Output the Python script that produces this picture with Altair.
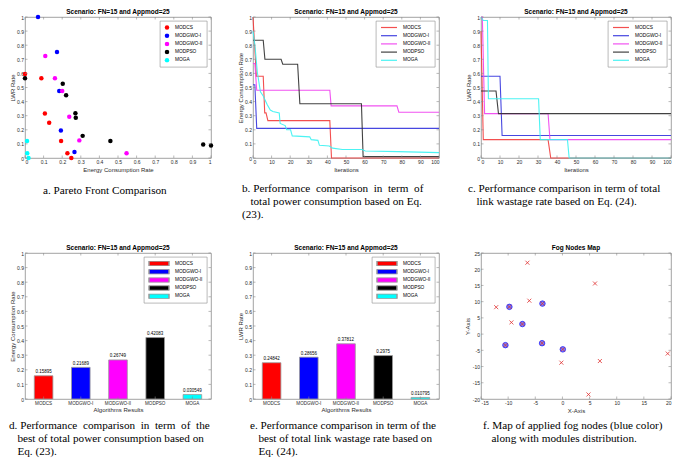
import altair as alt
import pandas as pd

SANS = "Liberation Sans"
SERIF = "Liberation Serif"
AXC = "#8a8a8a"
TXT = "#2b2b2b"

ALGS = ["MODCS", "MODGWO-I", "MODGWO-II", "MODPSO", "MOGA"]
COLORS = ["#ff0000", "#0000ff", "#ff00ff", "#000000", "#00ffff"]
LINE_COLORS = ["#f23c3c", "#3333dd", "#f040f0", "#2e2e2e", "#38f2f2"]
SCENARIO = "Scenario: FN=15 and Appmod=25"

TICKS_01 = [0.0, 0.1, 0.2, 0.3, 0.4, 0.5, 0.6, 0.7, 0.8, 0.9, 1.0]
TICKS_ITER = [0, 10, 20, 30, 40, 50, 60, 70, 80, 90, 100]
TICKS_FX = [-15, -10, -5, 0, 5, 10, 15, 20]
TICKS_FY = [-20, -15, -10, -5, 0, 5, 10, 15, 20, 25]

# (a) Pareto front
a_modcs_x = [0.0, 0.088, 0.107, 0.130, 0.194, 0.228, 0.249]
a_modcs_y = [0.595, 0.566, 0.316, 0.250, 0.120, 0.034, 0.0]
a_gwo1_x = [0.070, 0.172, 0.184, 0.193, 0.266]
a_gwo1_y = [1.0, 0.752, 0.475, 0.195, 0.043]
a_gwo2_x = [0.109, 0.161, 0.200, 0.238, 0.292, 0.546]
a_gwo2_y = [0.723, 0.566, 0.475, 0.293, 0.125, 0.034]
a_pso_x = [0.0, 0.203, 0.221, 0.271, 0.273, 0.310, 0.459, 0.958, 1.0]
a_pso_y = [0.566, 0.527, 0.445, 0.318, 0.286, 0.157, 0.120, 0.095, 0.089]
a_moga_x = [0.011, 0.012, 0.019]
a_moga_y = [0.120, 0.034, 0.0]

# (b) energy consumption vs iterations
b_modcs_it = [0, 1.8, 5.5, 6.3, 7.0, 8.0, 41.3, 42.2, 100]
b_modcs_v = [1.0, 0.58, 0.58, 0.32, 0.32, 0.265, 0.265, 0.0, 0.0]
b_gwo1_it = [0, 1.0, 2.0, 100]
b_gwo1_v = [0.52, 0.52, 0.21, 0.21]
b_gwo2_it = [0, 1.0, 2.0, 41.3, 42.0, 77.4, 78.4, 100]
b_gwo2_v = [0.67, 0.67, 0.48, 0.48, 0.37, 0.37, 0.325, 0.325]
b_pso_it = [0, 5.5, 6.4, 15.1, 16.0, 24.0, 25.2, 58.3, 59.2, 100]
b_pso_v = [0.835, 0.835, 0.70, 0.70, 0.665, 0.665, 0.385, 0.385, 0.01, 0.01]
b_moga_it = [0, 1.1, 2.3, 4.0, 5.5, 7.6, 9.3, 10.7, 14.1, 14.6, 17.3, 18.1, 20.2,
             21.1, 30.5, 31.3, 34.9, 35.7, 41.0, 42.8, 48.0, 58.6, 60.4, 78.0, 100]
b_moga_v = [0.90, 0.79, 0.61, 0.47, 0.44, 0.38, 0.34, 0.33, 0.32, 0.245, 0.23, 0.20, 0.20,
            0.157, 0.15, 0.13, 0.125, 0.09, 0.085, 0.07, 0.06, 0.06, 0.05, 0.045, 0.038]

# (c) LWR vs iterations
c_modcs_it = [0, 1.2, 35.3, 36.7, 100]
c_modcs_v = [0.9, 0.13, 0.13, 0.0, 0.0]
c_gwo1_it = [0, 10.0, 11.1, 100]
c_gwo1_v = [0.58, 0.58, 0.16, 0.16]
c_gwo2_it = [0, 0.7, 1.9, 35.3, 36.3, 100]
c_gwo2_v = [1.0, 1.0, 0.315, 0.315, 0.13, 0.13]
c_pso_it = [0, 7.9, 9.2, 100]
c_pso_v = [0.475, 0.475, 0.315, 0.315]
c_moga_it = [0, 1.2, 3.4, 3.9, 30.3, 31.2, 45.5, 46.4, 100]
c_moga_v = [1.0, 0.975, 0.975, 0.42, 0.42, 0.13, 0.13, 0.0, 0.0]

# (d) best energy, (e) best LWR
d_values = [0.15895, 0.21689, 0.26749, 0.42083, 0.030549]
e_values = [0.24842, 0.28656, 0.37812, 0.2975, 0.010795]

# (f) fog nodes map
fog_x = [-9.77, -7.37, -10.5, -3.68, -3.75, 0.07]
fog_y = [8.4, 3.1, -3.4, 9.4, -2.8, -4.7]
mod_x = [-9.77, -7.37, -10.5, -3.68, -3.75, 0.07, -6.45, -6.1, -12.2, -9.4, 6.0, -0.2, 6.9, 4.8, 19.4]
mod_y = [8.4, 3.1, -3.4, 9.4, -2.8, -4.7, 22.0, 10.3, 8.3, 3.6, 15.6, -8.8, -8.3, -18.6, -6.0]

W1, W2, W3 = 186, 186, 190
H1, H2 = 141, 146
LBL = "'' + datum.value"
RECT = "M-1,-0.25H1V0.25H-1Z"
NB = "\u00a0"
IND = "\u200b" + NB * 3
CAP_SIZE = 11.2
CAP_LH = 13


def long_df(pairs, xname, yname):
    rows = []
    for alg, xs, ys in pairs:
        for i, (xv, yv) in enumerate(zip(xs, ys)):
            rows.append({"alg": alg, xname: xv, yname: yv, "k": i})
    return pd.DataFrame(rows)


def axis(values, title, **kw):
    return alt.Axis(values=values, title=title, labelExpr=LBL, **kw)


def legend(**kw):
    base = dict(title=None, orient="top-right", offset=4, fillColor="white",
                strokeColor="#8a8a8a", padding=4, labelFont=SANS, labelFontSize=4.8,
                labelColor="#000000", rowPadding=2.2, labelOffset=5, clipHeight=5)
    base.update(kw)
    return alt.Legend(**base)


def caption(lines, dx, offset):
    return alt.TitleParams(text=lines, orient="bottom", anchor="start", frame="group",
                           dx=dx, offset=offset, font=SERIF, fontSize=CAP_SIZE,
                           fontWeight="normal", color="#000000", lineHeight=CAP_LH)


def top_title(text, W):
    return alt.Chart(alt.Data(values=[{"t": text}])).mark_text(
        font=SANS, fontSize=6.5, fontWeight="bold", color="#000000",
        baseline="bottom", align="center"
    ).encode(x=alt.value(W / 2), y=alt.value(-2.5), text="t:N")


def inward_ticks(xvals, yvals, X, Y, W, H):
    """Small inward tick marks on all four sides (MATLAB box style)."""
    tl = 2.5
    style = dict(color=AXC, strokeWidth=0.6)
    xd = pd.DataFrame({X.shorthand.split(":")[0]: xvals})
    yd = pd.DataFrame({Y.shorthand.split(":")[0]: yvals})
    return [
        alt.Chart(xd).mark_rule(**style).encode(x=X, y=alt.value(H), y2=alt.value(H - tl)),
        alt.Chart(xd).mark_rule(**style).encode(x=X, y=alt.value(0), y2=alt.value(tl)),
        alt.Chart(yd).mark_rule(**style).encode(y=Y, x=alt.value(0), x2=alt.value(tl)),
        alt.Chart(yd).mark_rule(**style).encode(y=Y, x=alt.value(W), x2=alt.value(W - tl)),
    ]


sy01 = alt.Scale(domain=[0, 1], nice=False, zero=False)
pt_color = alt.Scale(domain=ALGS, range=COLORS)
ln_color = alt.Scale(domain=ALGS, range=LINE_COLORS)

# ---------- (a)
df_a = long_df([("MODCS", a_modcs_x, a_modcs_y), ("MODGWO-I", a_gwo1_x, a_gwo1_y),
                ("MODGWO-II", a_gwo2_x, a_gwo2_y), ("MODPSO", a_pso_x, a_pso_y),
                ("MOGA", a_moga_x, a_moga_y)], "x", "y")
sx_a = alt.Scale(domain=[0, 1], nice=False, zero=False)
Xa = alt.X("x:Q", scale=sx_a, axis=axis(TICKS_01, "Energy Consumption Rate"))
Ya = alt.Y("y:Q", scale=sy01, axis=axis(TICKS_01, "LWR Rate"))
pts_a = alt.Chart(df_a).mark_circle(size=20, opacity=1).encode(
    x=Xa, y=Ya,
    color=alt.Color("alg:N", scale=pt_color, sort=ALGS,
                    legend=legend(symbolType="circle", symbolSize=20)),
)
panel_a = alt.layer(pts_a, *inward_ticks(TICKS_01, TICKS_01, Xa, Ya, W1, H1),
                    top_title(SCENARIO, W1)).properties(
    width=W1, height=H1, title=caption(["a. Pareto Front Comparison"], 18, 13))


# ---------- (b), (c)
def line_panel(df, W, ytitle, cap, capdx):
    sx = alt.Scale(domain=[0, 100], nice=False, zero=False)
    X = alt.X("it:Q", scale=sx, axis=axis(TICKS_ITER, "Iterations"))
    Y = alt.Y("v:Q", scale=sy01, axis=axis(TICKS_01, ytitle))
    lines = alt.Chart(df).mark_line(strokeWidth=1.1, opacity=0.9).encode(
        x=X, y=Y,
        color=alt.Color("alg:N", scale=ln_color, sort=ALGS,
                        legend=legend(symbolType="stroke", symbolSize=256, symbolStrokeWidth=1.2)),
        order="k:Q",
    )
    return alt.layer(lines, *inward_ticks(TICKS_ITER, TICKS_01, X, Y, W, H1),
                     top_title(SCENARIO, W)).properties(
        width=W, height=H1, title=caption(cap, capdx, 11))


df_b = long_df([("MODCS", b_modcs_it, b_modcs_v), ("MODGWO-I", b_gwo1_it, b_gwo1_v),
                ("MODGWO-II", b_gwo2_it, b_gwo2_v), ("MODPSO", b_pso_it, b_pso_v),
                ("MOGA", b_moga_it, b_moga_v)], "it", "v")
df_c = long_df([("MODCS", c_modcs_it, c_modcs_v), ("MODGWO-I", c_gwo1_it, c_gwo1_v),
                ("MODGWO-II", c_gwo2_it, c_gwo2_v), ("MODPSO", c_pso_it, c_pso_v),
                ("MOGA", c_moga_it, c_moga_v)], "it", "v")

panel_b = line_panel(df_b, W2, "Energy Consumption Rate",
                     [f"b. Performance {NB}comparison {NB}in {NB}term {NB}of",
                      f"{IND}total power consumption based on Eq.", "(23)."], -11)
panel_c = line_panel(df_c, W3, "LWR Rate",
                     ["c. Performance comparison in term of total",
                      f"{IND}link wastage rate based on Eq. (24)."], -13)


# ---------- (d), (e)
def bar_panel(values, W, ytitle, cap, capdx):
    df = pd.DataFrame({"alg": ALGS, "v": values, "lbl": [str(v) for v in values]})
    bscale = alt.Scale(domain=ALGS, paddingInner=0.5, paddingOuter=0.25)
    X = alt.X("alg:N", sort=ALGS, scale=bscale,
              axis=alt.Axis(title="Algorithms Results", labelAngle=0, labelFontSize=4.6))
    Y = alt.Y("v:Q", scale=sy01, axis=axis(TICKS_01, ytitle))
    bars = alt.Chart(df).mark_bar(stroke="#9a9a9a", strokeWidth=0.8).encode(
        x=X, y=Y,
        color=alt.Color("alg:N", scale=pt_color, sort=ALGS,
                        legend=legend(symbolType=RECT, symbolSize=400)),
    )
    labels = alt.Chart(df).mark_text(font=SANS, fontSize=4.5, baseline="bottom", dy=-1.5,
                                     color="#000000").encode(x=X, y=Y, text="lbl:N")
    return alt.layer(bars, labels, *inward_ticks(ALGS, TICKS_01, X, Y, W, H2),
                     top_title(SCENARIO, W)).properties(
        width=W, height=H2, title=caption(cap, capdx, 7))


panel_d = bar_panel(d_values, W1, "Energy Consumption Rate",
                    [f"d. Performance {NB}comparison {NB}in {NB}term {NB}of {NB}the",
                     f"{IND}best of total power consumption based on",
                     f"{IND}Eq. (23)."], -16)
panel_e = bar_panel(e_values, W2, "LWR Rate",
                    ["e. Performance comparison in term of the",
                     f"{IND}best of total link wastage rate based on",
                     f"{IND}Eq. (24)."], -3)

# ---------- (f)
sx_f = alt.Scale(domain=[-15, 20], nice=False, zero=False)
sy_f = alt.Scale(domain=[-20, 25], nice=False, zero=False)
Xf = alt.X("x:Q", scale=sx_f, axis=axis(TICKS_FX, "X-Axis"))
Yf = alt.Y("y:Q", scale=sy_f, axis=axis(TICKS_FY, "Y-Axis"))
df_fog = pd.DataFrame({"x": fog_x, "y": fog_y})
df_mod = pd.DataFrame({"x": mod_x, "y": mod_y})
fog = alt.Chart(df_fog).mark_circle(size=30, color="#8080f0", stroke="#1f1fff",
                                    strokeWidth=0.8, opacity=1).encode(x=Xf, y=Yf)
mods = alt.Chart(df_mod).mark_point(shape="M-1,-1L1,1M-1,1L1,-1", size=16, color="#e03030",
                                    strokeWidth=0.8, filled=False, opacity=1).encode(x=Xf, y=Yf)
panel_f = alt.layer(fog, mods, *inward_ticks(TICKS_FX, TICKS_FY, Xf, Yf, W3, H2),
                    top_title("Fog Nodes Map", W3)).properties(
    width=W3, height=H2,
    title=caption(["f. Map of applied fog nodes (blue color)",
                   f"{IND}along with modules distribution."], 2, 7))

chart = alt.concat(panel_a, panel_b, panel_c, panel_d, panel_e, panel_f,
                   columns=3, spacing={"row": 95, "column": 42}, bounds="flush",
                   padding=0, background="white"
                   ).resolve_scale(x="independent", y="independent", color="independent"
                   ).resolve_legend(color="independent"
                   ).configure_view(stroke=AXC, strokeWidth=0.8
                   ).configure_axis(domain=False, grid=False, ticks=False, labelFont=SANS,
                                    labelFontSize=5, labelColor=TXT, labelPadding=1.5,
                                    titleFont=SANS, titleFontSize=6, titleFontWeight="normal",
                                    titleColor=TXT, titlePadding=1.5
                   ).configure_legend(strokeWidth=0.6)

chart.save("out.html", embed_options={"renderer": "svg", "actions": False})
